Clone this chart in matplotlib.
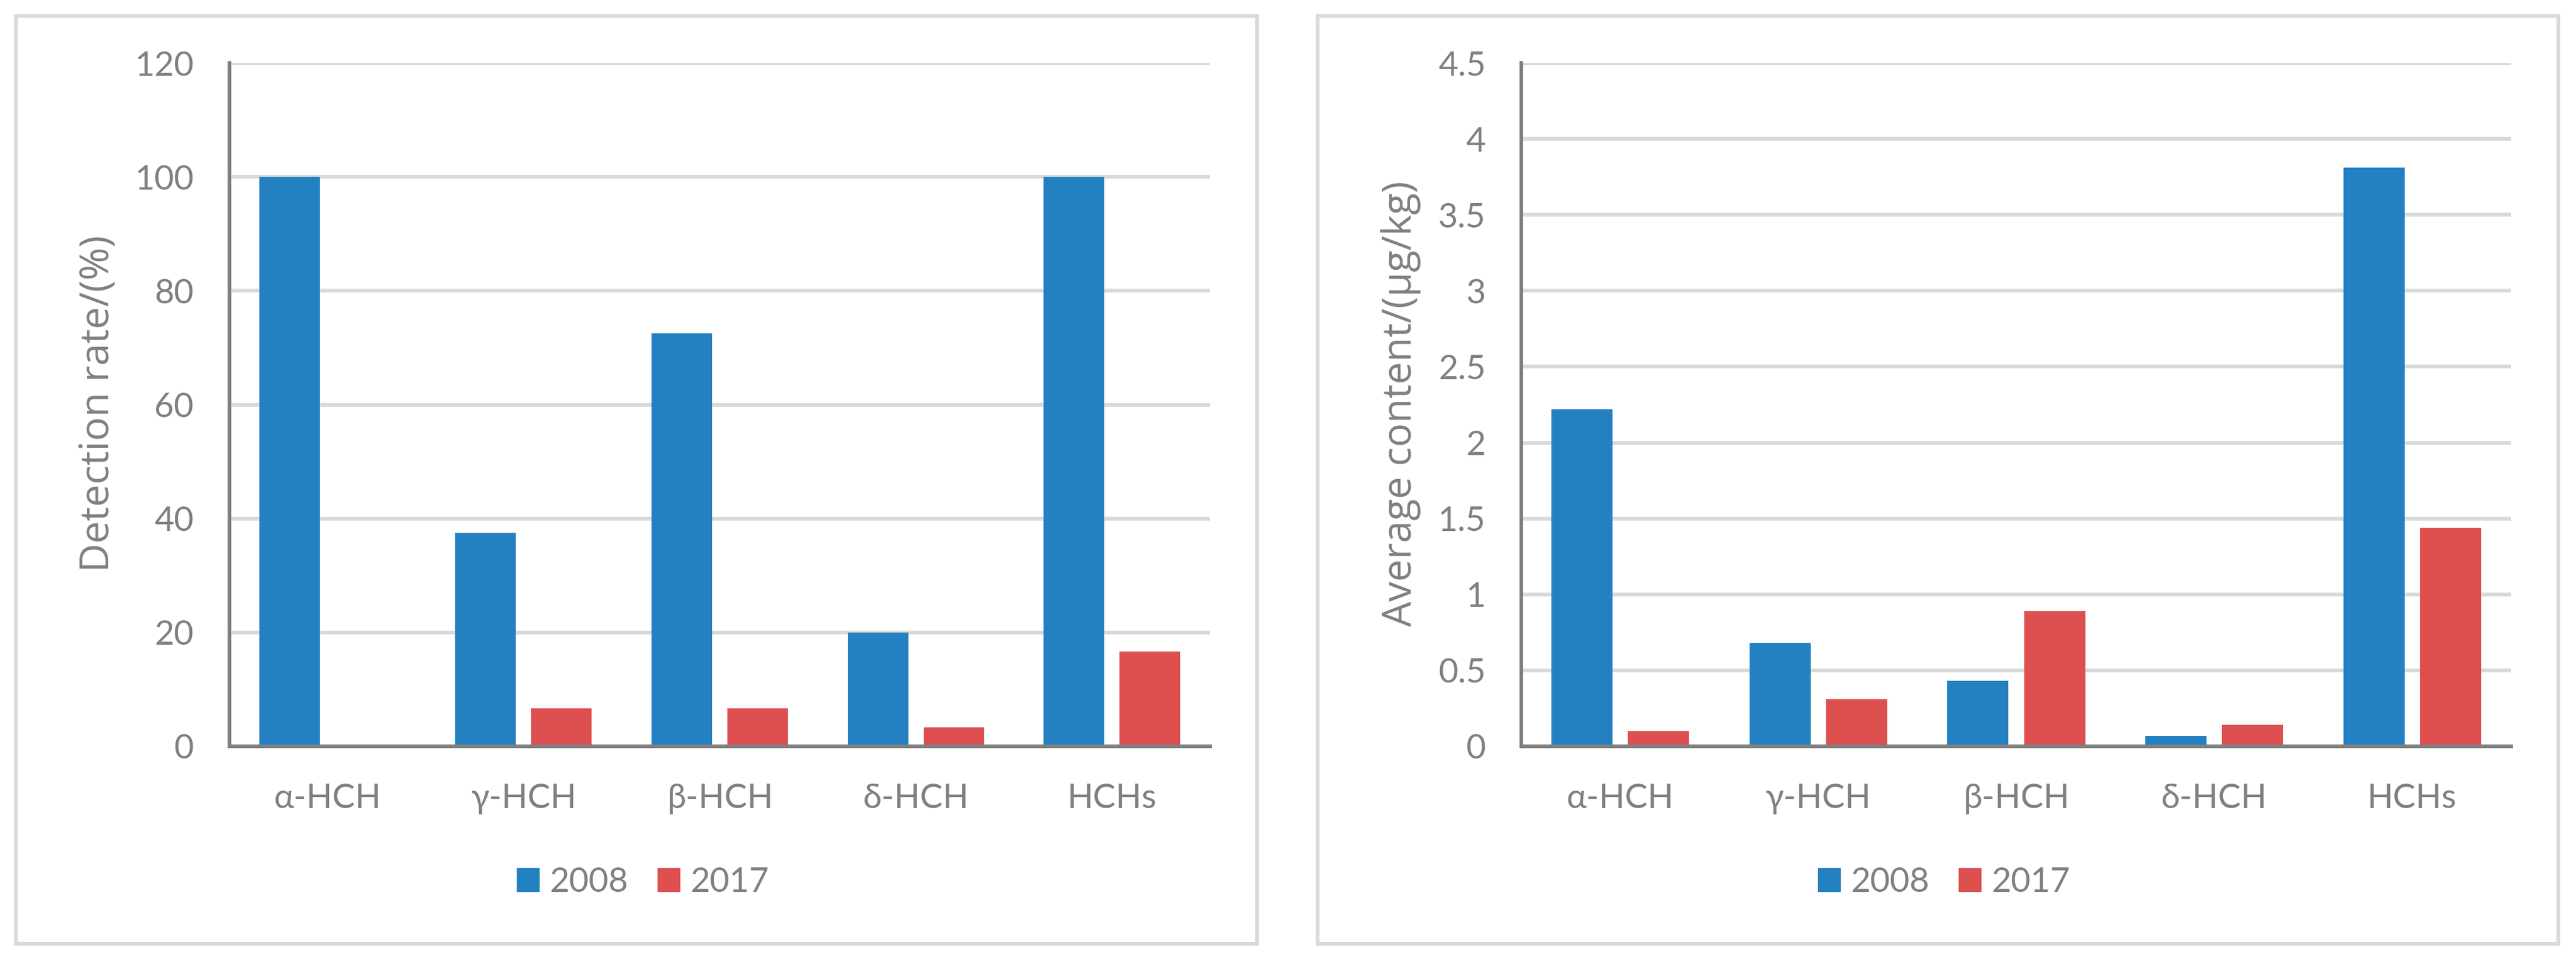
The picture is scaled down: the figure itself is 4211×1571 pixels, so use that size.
import numpy as np
import matplotlib
matplotlib.use("Agg")
import matplotlib.pyplot as plt
from matplotlib.patches import Rectangle, Patch

# data
categories = ["α-HCH", "γ-HCH", "β-HCH", "δ-HCH", "HCHs"]
years = ["2008", "2017"]

detection_2008 = [100, 37.5, 72.5, 20, 100]
detection_2017 = [0, 6.7, 6.7, 3.3, 16.7]

content_2008 = [2.22, 0.68, 0.43, 0.07, 3.81]
content_2017 = [0.10, 0.31, 0.89, 0.14, 1.44]

det_ticks = [0, 20, 40, 60, 80, 100, 120]
det_ticklabels = ["0", "20", "40", "60", "80", "100", "120"]
con_ticks = [0, 0.5, 1, 1.5, 2, 2.5, 3, 3.5, 4, 4.5]
con_ticklabels = ["0", "0.5", "1", "1.5", "2", "2.5", "3", "3.5", "4", "4.5"]

BLUE = "#2481C1"
RED = "#DE5050"
TEXT = "#808080"
GRID = "#D9D9D9"
SPINE = "#808080"

FONT = ["Lato", "Noto Sans", "DejaVu Sans"]
TITLE_FONT = ["Open Sans", "Noto Sans", "DejaVu Sans"]

W, H = 4211, 1571
fig = plt.figure(figsize=(W / 100, H / 100), dpi=100)
fig.patch.set_facecolor("white")


def px(x0, y0, x1, y1):
    # pixel box (top-left origin) -> figure fraction rect
    return [x0 / W, 1 - y1 / H, (x1 - x0) / W, (y1 - y0) / H]


def draw_panel(rect, vals_a, vals_b, ticks, ticklabels, ylim, ylabel, label_x, border, legend_x):
    ax = fig.add_axes(rect)
    x = np.arange(len(categories))
    width = 0.309
    off = 0.1935
    ax.bar(x - off, vals_a, width, color=BLUE, label=years[0], zorder=3)
    ax.bar(x + off, vals_b, width, color=RED, label=years[1], zorder=3)

    ax.set_xlim(-0.5, len(categories) - 0.5)
    ax.set_ylim(*ylim)
    ax.set_yticks(ticks)
    ax.set_yticklabels(ticklabels)
    ax.set_xticks(x)
    ax.set_xticklabels(categories)
    for lab in ax.get_xticklabels() + ax.get_yticklabels():
        lab.set_family(FONT)
        lab.set_fontsize(40)
        lab.set_color(TEXT)
    ax.tick_params(axis="y", length=0, pad=42)
    ax.tick_params(axis="x", length=0, pad=43)

    ax.yaxis.grid(True, color=GRID, linewidth=4.5, zorder=0)
    ax.set_axisbelow(True)
    for s in ["top", "right"]:
        ax.spines[s].set_visible(False)
    for s in ["left", "bottom"]:
        ax.spines[s].set_color(SPINE)
        ax.spines[s].set_linewidth(4.3)
        ax.spines[s].set_zorder(4)

    fig.text(label_x / W, 1 - 660 / H, ylabel, rotation=90, ha="center", va="center",
             fontsize=47, color=TEXT, family=TITLE_FONT)

    bx0, by0, bx1, by1 = border
    fig.add_artist(Rectangle((bx0 / W, 1 - by1 / H), (bx1 - bx0) / W, (by1 - by0) / H,
                             transform=fig.transFigure, fill=False,
                             edgecolor=GRID, linewidth=4.3))

    handles = [Patch(color=BLUE, label=years[0]), Patch(color=RED, label=years[1])]
    leg = ax.legend(handles=handles, loc="center", bbox_to_anchor=(legend_x / W, 1 - 1442 / H),
                    bbox_transform=fig.transFigure, ncol=2, frameon=False,
                    prop={"family": FONT, "size": 40},
                    handlelength=0.65, handleheight=0.65, handletextpad=0.32,
                    columnspacing=0.86)
    for t in leg.get_texts():
        t.set_color(TEXT)
    return ax


draw_panel(px(375, 103, 1978, 1220), detection_2008, detection_2017,
           det_ticks, det_ticklabels, (0, 120), "Detection rate/(%)",
           160, (26, 26, 2055, 1543), 1051)

draw_panel(px(2487, 103, 4105, 1220), content_2008, content_2017,
           con_ticks, con_ticklabels, (0, 4.5), "Average content/(μg/kg)",
           2290, (2154, 26, 4182, 1543), 3178)

fig.savefig("out.png", dpi=100, facecolor="white")
